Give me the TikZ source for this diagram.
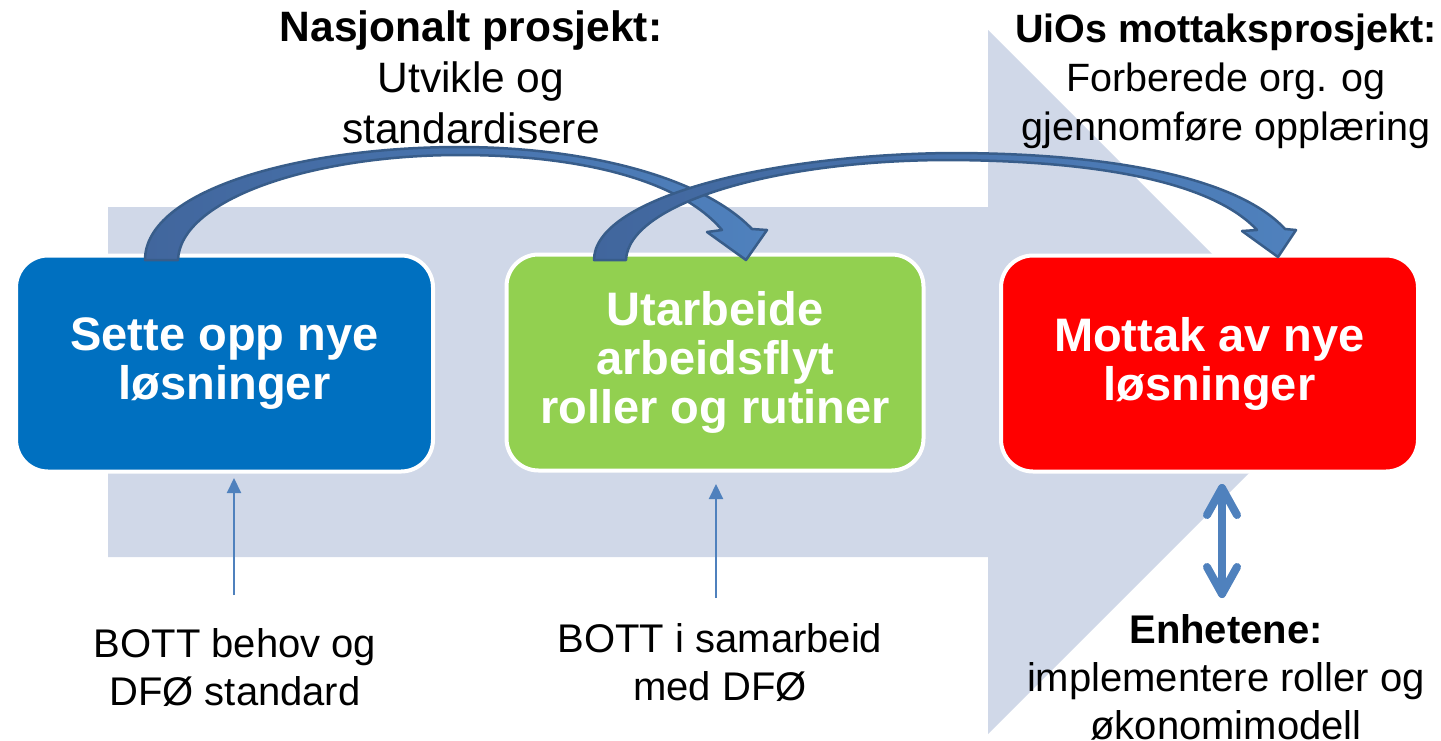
\documentclass[tikz,border=0pt]{standalone}
\usepackage{fontspec}
\setmainfont{Liberation Sans}
\usetikzlibrary{arrows.meta,calc}
\definecolor{bgarrow}{HTML}{D0D8E8}
\definecolor{boxblue}{HTML}{0070C0}
\definecolor{boxgreen}{HTML}{92D050}
\definecolor{boxred}{HTML}{FF0000}
\definecolor{alight}{HTML}{4F81BD}
\definecolor{adark}{HTML}{41669D}
\definecolor{aborder}{HTML}{385D8A}
\begin{document}
\begin{tikzpicture}[x=1pt,y=-1pt,
  stagebox/.style={draw=white, line width=4pt, rounded corners=32pt, minimum width=417pt, minimum height=216pt, align=center, text=white, font=\fontsize{47}{49}\selectfont\bfseries, inner sep=0pt},
  curvarrow/.style={draw=aborder, line width=2.5pt, line join=round},
  lbl/.style={align=center, anchor=base, inner sep=0pt},
  thinarrow/.style={draw=alight, line width=2.2pt, -{Triangle[length=15pt,width=14pt]}},
  dblarrow/.style={draw=alight, line width=8pt, line cap=round, line join=round}
]
\useasboundingbox (0,0) rectangle (1441,740);
\fill[white] (0,0) rectangle (1441,740);

% big background arrow
\fill[bgarrow] (108,207) -- (988,207) -- (988,30) -- (1340,382) -- (988,734) -- (988,557) -- (108,557) -- cycle;

% stage boxes
\node[stagebox, fill=boxblue] (b1) at (224.5,363.5) {Sette opp nye\\løsninger};
\node[stagebox, fill=boxgreen] (b2) at (715,362.5) {Utarbeide\\arbeidsflyt\\roller og rutiner};
\node[stagebox, fill=boxred] (b3) at (1209.5,363.5) {Mottak av nye\\løsninger};

% curved arrows
\path[curvarrow, left color=adark, middle color=adark, right color=alight]
  (145,260) .. controls (145,190) and (300,147) .. (460,147)
  .. controls (580,147) and (700,175) .. (752,229)
  -- (767,230) -- (746,260) -- (707,232) -- (722,230)
  .. controls (680,180) and (580,155) .. (460,155)
  .. controls (310,155) and (180,200) .. (178,260) -- cycle;
\path[curvarrow, left color=adark, middle color=adark, right color=alight]
  (594,260) .. controls (594,200) and (760,155) .. (950,153)
  .. controls (1120,153) and (1240,180) .. (1285,229)
  -- (1296,230) -- (1278,257) -- (1242,231) -- (1257,230)
  .. controls (1215,185) and (1110,161) .. (950,160)
  .. controls (770,160) and (628,205) .. (626,260) -- cycle;

% labels (anchor=base is the baseline of the last line)
\node[lbl, font=\fontsize{42.5}{51}\selectfont] (n1) at (471,143) {{\bfseries Nasjonalt prosjekt:}\\Utvikle og\\standardisere};
\node[lbl, font=\fontsize{39.5}{49}\selectfont] (n2) at (1226,140) {{\bfseries UiOs mottaksprosjekt:}\\Forberede org. og\\gjennomføre opplæring};
\node[lbl, font=\fontsize{40}{48}\selectfont] (n3) at (235,705) {BOTT behov og\\DFØ standard};
\node[lbl, font=\fontsize{40}{48}\selectfont] (n4) at (720,700) {BOTT i samarbeid\\med DFØ};
\node[lbl, font=\fontsize{40}{48}\selectfont] (n5) at (1226,739) {{\bfseries Enhetene:}\\implementere roller og\\økonomimodell};

% thin arrows
\coordinate (t1s) at (234,595);
\coordinate (t1e) at (234,478);
\coordinate (t2s) at (716,598);
\coordinate (t2e) at (716,484);
\draw[thinarrow] (t1s) -- (t1e);
\draw[thinarrow] (t2s) -- (t2e);

% double arrow
\coordinate (dt) at (1222,488);
\coordinate (db) at (1222,594);
\draw[dblarrow] (dt) -- (db);
\draw[dblarrow] ($(dt)+(-15,27)$) -- (dt) -- ($(dt)+(15,27)$);
\draw[dblarrow] ($(db)+(-15,-27)$) -- (db) -- ($(db)+(15,-27)$);
\end{tikzpicture}
\end{document}
